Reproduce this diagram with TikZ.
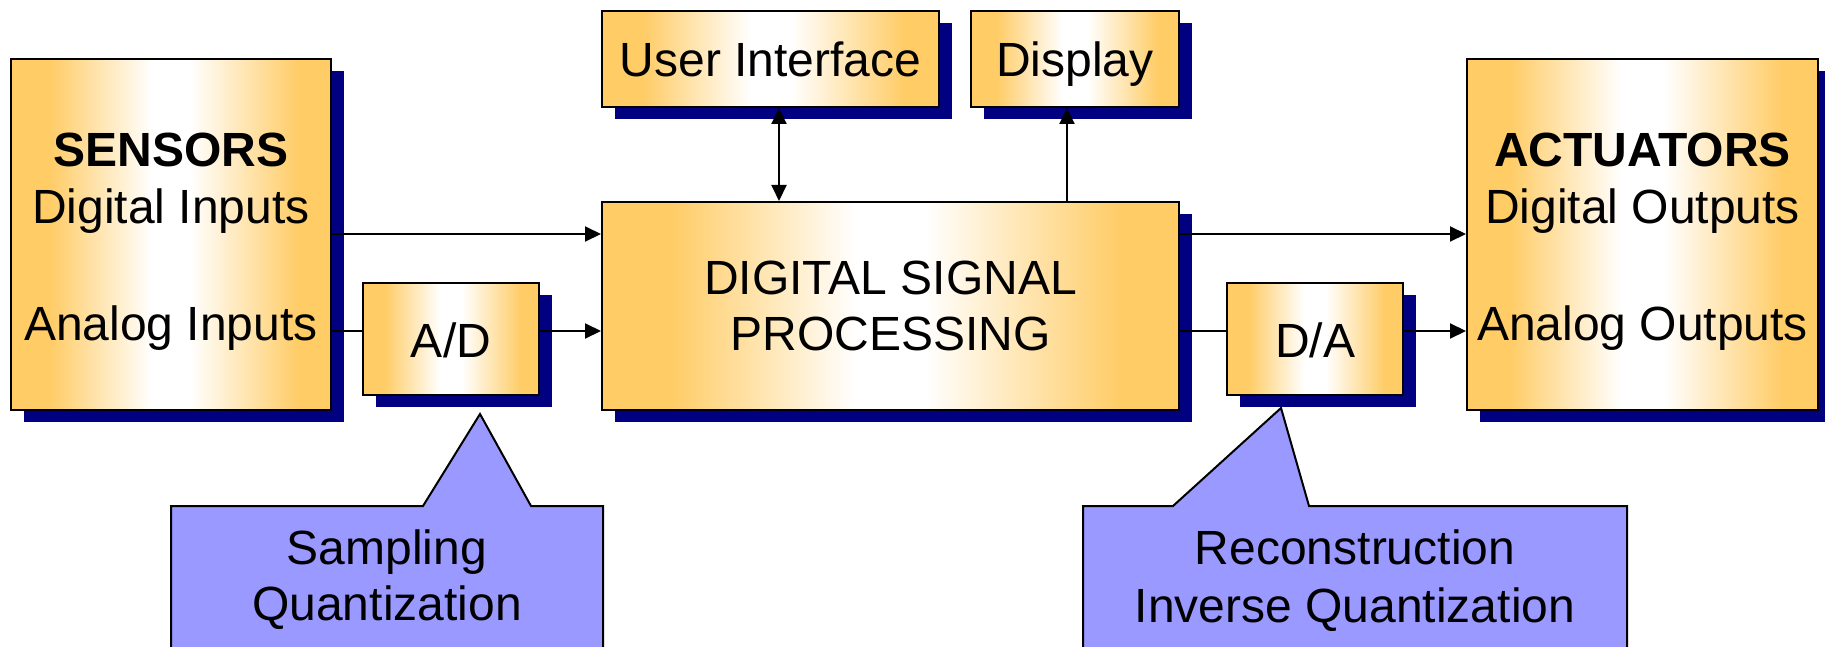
\documentclass[tikz,border=0pt]{standalone}
\usepackage{fontspec}
\setmainfont{Liberation Sans}
\usetikzlibrary{arrows.meta,shadows}
\definecolor{boxorange}{HTML}{FFCC66}
\definecolor{shadownavy}{HTML}{000080}
\definecolor{calloutblue}{HTML}{9999FF}
% orange edges fading to white in the middle of each block
\pgfdeclarehorizontalshading{boxfade}{100bp}{color(0bp)=(boxorange); color(25bp)=(boxorange); color(31bp)=(boxorange); color(47bp)=(white); color(53bp)=(white); color(70bp)=(boxorange); color(75bp)=(boxorange); color(100bp)=(boxorange)}

\begin{document}
\begin{tikzpicture}[x=1pt,y=-1pt,
  block/.style={draw=black, line width=2pt, shade, shading=boxfade, inner sep=0pt,
    drop shadow={shadow xshift=13pt, shadow yshift=-12pt, fill=shadownavy, opacity=1}},
  lbl/.style={font=\fontsize{48}{56}\selectfont, inner sep=0pt, anchor=base},
  wire/.style={line width=2pt},
  arr/.style={wire, -{Triangle[length=16pt,width=15pt]}},
  callout/.style={draw=black, line width=2pt, fill=calloutblue, line join=miter}
]
\useasboundingbox (0,0) rectangle (1825,647);
\clip (0,0) rectangle (1825,647);

% blocks
\node[block, minimum width=320pt, minimum height=351pt] (sens) at (171,234.5) {};
\node[block, minimum width=176pt, minimum height=112pt] (ad)   at (451,339) {};
\node[block, minimum width=577pt, minimum height=208pt] (dsp)  at (890.5,306) {};
\node[block, minimum width=337pt, minimum height=96pt]  (ui)   at (770.5,59) {};
\node[block, minimum width=208pt, minimum height=96pt]  (disp) at (1075,59) {};
\node[block, minimum width=176pt, minimum height=112pt] (da)   at (1315,339) {};
\node[block, minimum width=351pt, minimum height=351pt] (act)  at (1642.5,234.5) {};

% block texts
\node[lbl] (sens-a) at (171,167) {\bfseries SENSORS};
\node[lbl] (sens-b) at (171,223) {Digital Inputs};
\node[lbl] (sens-c) at (171,340) {Analog Inputs};
\node[lbl] (act-a) at (1642.5,167) {\bfseries ACTUATORS};
\node[lbl] (act-b) at (1642.5,223) {Digital Outputs};
\node[lbl] (act-c) at (1642.5,340) {Analog Outputs};
\node[lbl] (ad-t) at (451,357) {A/D};
\node[lbl] (da-t) at (1315,357) {D/A};
\node[lbl] (dsp-a) at (890.5,294) {DIGITAL SIGNAL};
\node[lbl] (dsp-b) at (890.5,350) {PROCESSING};
\node[lbl] (ui-t) at (770.5,77) {User Interface};
\node[lbl] (disp-t) at (1075,77) {Display};

% signal paths
\draw[arr]  (sens.east |- 0,234) -- (dsp.west |- 0,234);
\draw[wire] (sens.east |- 0,331) -- (ad.west |- 0,331);
\draw[arr]  (ad.east |- 0,331) -- (dsp.west |- 0,331);
\draw[arr]  (dsp.east |- 0,234) -- (act.west |- 0,234);
\draw[wire] (dsp.east |- 0,331) -- (da.west |- 0,331);
\draw[arr]  (da.east |- 0,331) -- (act.west |- 0,331);
\draw[wire, {Triangle[length=16pt,width=15pt]}-{Triangle[length=16pt,width=15pt]}]
  (ui.south -| 779,0) -- (dsp.north -| 779,0);
\draw[arr]  (dsp.north -| 1067,0) -- (disp.south -| 1067,0);

% callouts
\draw[callout] (171,660) -- (171,506) -- (423,506) -- (480,414) -- (531,506)
  -- (603,506) -- (603,660) -- cycle;
\node[lbl] (samp-a) at (387,564) {Sampling};
\node[lbl] (samp-b) at (387,620) {Quantization};

\draw[callout] (1083,660) -- (1083,506) -- (1173,506) -- (1281,408) -- (1309,506)
  -- (1627,506) -- (1627,660) -- cycle;
\node[lbl] (rec-a) at (1355,564) {Reconstruction};
\node[lbl] (rec-b) at (1355,622) {Inverse Quantization};
\end{tikzpicture}
\end{document}
